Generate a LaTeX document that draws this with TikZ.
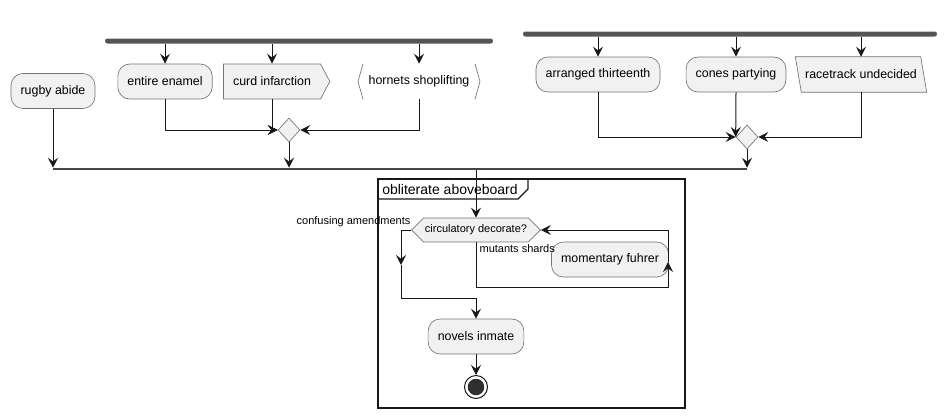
\documentclass[tikz,border=0pt]{standalone}
\usepackage{fontspec}
\setmainfont{Liberation Sans}
\usetikzlibrary{arrows, arrows.meta}
\usetikzlibrary{positioning}
\usetikzlibrary{shapes.geometric, shapes.symbols}
\usetikzlibrary{calc}
\pgfdeclarelayer{bg}
\pgfsetlayers{bg,main}
\definecolor{actfill}{HTML}{F1F1F1}
\definecolor{actline}{HTML}{181818}
\definecolor{barfill}{HTML}{555555}

\begin{document}
\begin{tikzpicture}[x=0.75pt, y=-0.75pt,
		every node/.style={font=\fontsize{9.3}{11}\selectfont},
		act/.style={rectangle, rounded corners=9pt, draw=actline!60, line width=0.5pt, fill=actfill, minimum height=26.25pt, inner xsep=7.2pt, inner ysep=0pt},
		plain/.style={draw=actline!60, line width=0.5pt, fill=actfill, minimum height=26.25pt, inner xsep=7.2pt, inner ysep=0pt},
		merge/.style={diamond, draw=actline!60, fill=actfill, line width=0.5pt, minimum width=16.5pt, minimum height=18pt, inner sep=0pt},
		forkbar/.style={rectangle, fill=barfill, rounded corners=1.8pt, minimum height=3.75pt, inner sep=0pt},
		flow/.style={draw=actline, line width=0.75pt, -{Stealth[length=7.5pt, width=7.5pt, inset=2.8pt]}},
		edge/.style={font=\fontsize{8.25}{10}\selectfont, inner sep=1pt}]
	\useasboundingbox (0,0) rectangle (948,418);

	% bars
	\node[forkbar, minimum width=291pt] (fork1) at (299,41) {};
	\node[forkbar, minimum width=310.5pt] (fork2) at (730,34) {};
	\node[forkbar, fill=actline!80, minimum width=520.5pt, minimum height=1.5pt, rounded corners=0pt] (join) at (400,169) {};

	% activities
	\foreach \nm/\x/\y/\txt in {rugby/53/91/rugby abide, enamel/165/81.5/entire enamel, arranged/598/74.5/arranged thirteenth, cones/736/74.5/cones partying, momentary/610/259.5/momentary fuhrer, novels/476/336.5/novels inmate}
	{
		\node[act] (\nm) at (\x,\y) {\txt};
	}
	\node[plain, signal, signal to=east, signal pointer angle=124] (curd) at (272,81.5) {curd infarction};
	\node[minimum height=26.25pt, inner xsep=7.8pt, inner ysep=0pt] (hornets) at (419,81.5) {hornets shoplifting};
	\draw[actline!60, line width=0.5pt] ([xshift=3.75pt]hornets.north west) -- (hornets.west) -- ([xshift=3.75pt]hornets.south west);
	\draw[actline!60, line width=0.5pt] ([xshift=-3.75pt]hornets.north east) -- (hornets.east) -- ([xshift=-3.75pt]hornets.south east);
	\node[minimum height=26.25pt, inner xsep=7.2pt, inner ysep=0pt] (racetrack) at (861,74.5) {racetrack undecided};
	\begin{pgfonlayer}{bg}
		\filldraw[fill=actfill, draw=actline!60, line width=0.5pt] (racetrack.north west) -- ([xshift=-4.5pt]racetrack.north east) -- (racetrack.south east) -- ([xshift=4.5pt]racetrack.south west) -- cycle;
	\end{pgfonlayer}

	\node[merge] (mrg1) at (289,130) {};
	\node[merge] (mrg2) at (747,137) {};

	% split arrows
	\foreach \n in {enamel, curd, hornets}
		\draw[flow] (fork1.south -| \n) -- (\n.north);
	\foreach \n in {arranged, cones, racetrack}
		\draw[flow] (fork2.south -| \n) -- (\n.north);
	\draw[flow] (enamel.south) |- (mrg1.west);
	\draw[flow] (curd.south) |- (mrg1.west);
	\draw[flow] (hornets.south) |- (mrg1.east);
	\draw[flow] (arranged.south) |- (mrg2.west);
	\draw[flow] (cones.south) -- (mrg2.west);
	\draw[flow] (racetrack.south) |- (mrg2.east);
	\draw[flow] (rugby.south) -- (rugby |- join.north);
	\draw[flow] (mrg1.south) -- (mrg1 |- join.north);
	\draw[flow] (mrg2.south) -- (mrg2 |- join.north);

	% group
	\draw[actline, line width=1.1pt] (378,179) rectangle (685,408);
	\draw[actline, line width=0.9pt] (378,199) -- (518,199) -- (528,189) -- (528,179);
	\node[anchor=west, font=\fontsize{10.5}{12}\selectfont, inner sep=0pt] (title) at (382,189.5) {obliterate aboveboard};

	\node[plain, signal, signal to=east and west, signal pointer angle=90, minimum height=18pt, inner xsep=1pt, font=\fontsize{8.25}{10}\selectfont] (decision) at (476,230) {circulatory decorate?};
	\node[edge, anchor=east] (lblno) at (412,222) {confusing amendments};
	\node[edge, anchor=west] (lblyes) at (478,249) {mutants shards};
	\draw[flow] (join.south -| decision) -- (decision.north);

	% loop
	\coordinate (loopb) at (668,287);
	\coordinate (loopm) at (668,262);
	\draw[flow] (decision.south) |- (loopb) -- (loopm);
	\draw[flow] (loopm) |- (decision.east);

	% exit
	\coordinate (exitm) at (401,265);
	\coordinate (exitb) at (401,298);
	\draw[flow] (decision.west) -| (exitm);
	\draw[flow] (exitm) -- (exitb) -| (novels.north);

	\node[circle, draw=actline, line width=0.75pt, fill=white, minimum size=17.25pt, inner sep=0pt] (stop) at (476,387) {};
	\fill[actline!90] (stop) circle (6.2pt);
	\draw[flow] (novels.south) -- (stop.north);
\end{tikzpicture}
\end{document}
